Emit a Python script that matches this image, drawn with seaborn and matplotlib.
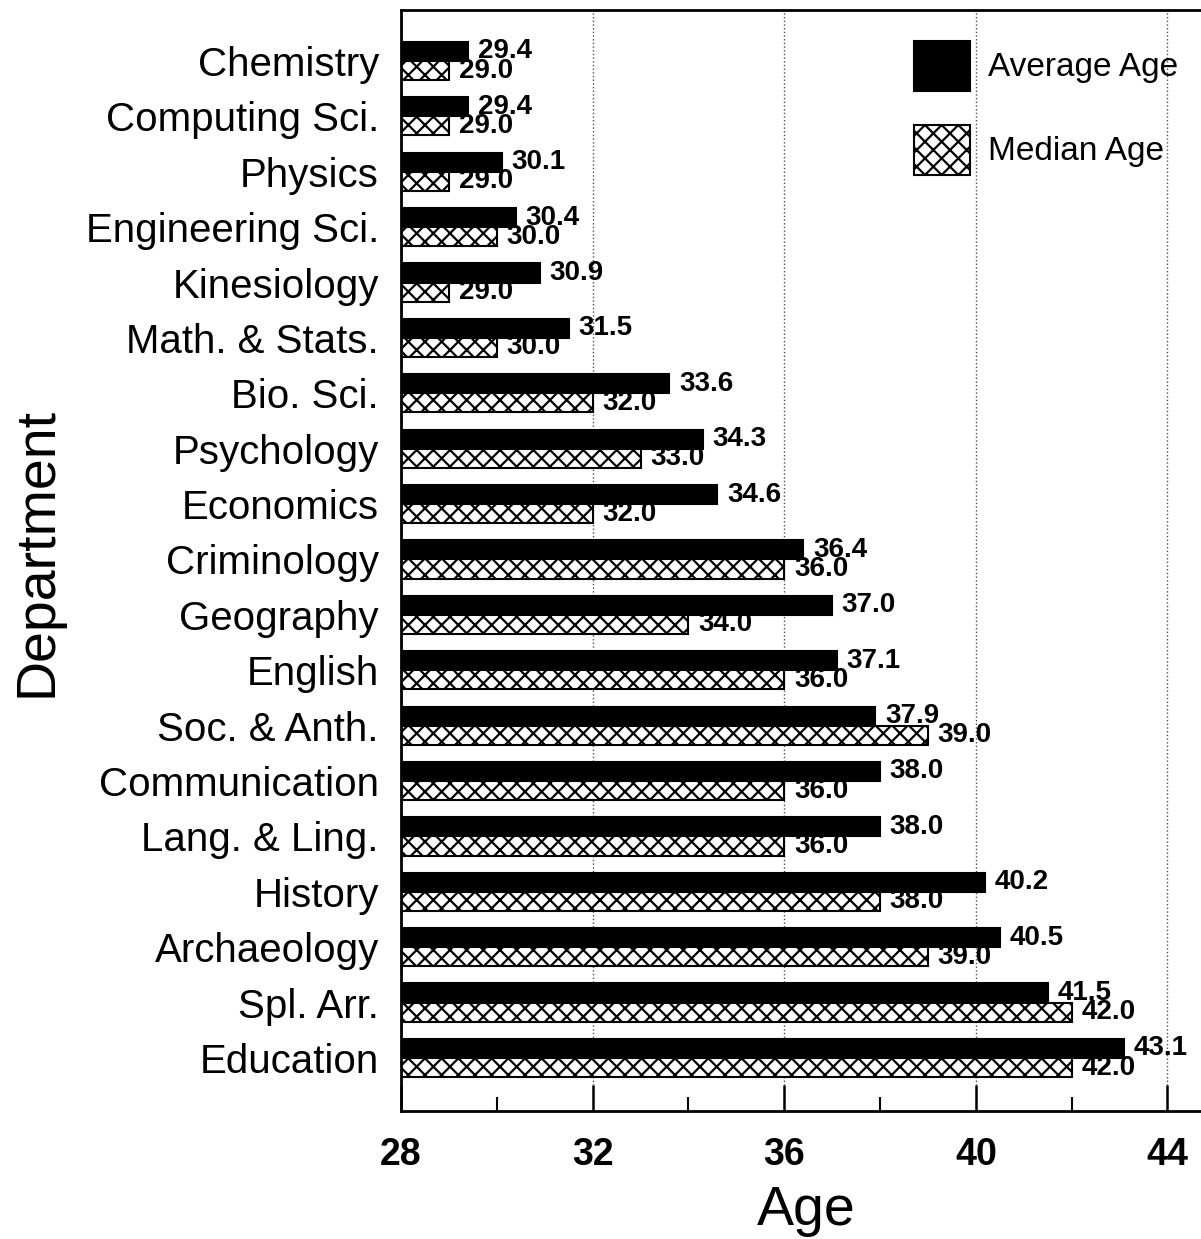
import matplotlib
matplotlib.use("Agg")
import matplotlib.pyplot as plt
import seaborn as sns
import pandas as pd

# department ages
departments = ["Chemistry", "Computing Sci.", "Physics", "Engineering Sci.",
               "Kinesiology", "Math. & Stats.", "Bio. Sci.", "Psychology",
               "Economics", "Criminology", "Geography", "English",
               "Soc. & Anth.", "Communication", "Lang. & Ling.", "History",
               "Archaeology", "Spl. Arr.", "Education"]
average_age = [29.4, 29.4, 30.1, 30.4, 30.9, 31.5, 33.6, 34.3, 34.6, 36.4,
               37.0, 37.1, 37.9, 38.0, 38.0, 40.2, 40.5, 41.5, 43.1]
median_age = [29.0, 29.0, 29.0, 30.0, 29.0, 30.0, 32.0, 33.0, 32.0, 36.0,
              34.0, 36.0, 39.0, 36.0, 36.0, 38.0, 39.0, 42.0, 42.0]
series = ["Average Age", "Median Age"]
x_ticks = [28, 32, 36, 40, 44]
x_minor = [30, 34, 38, 42]

df = pd.DataFrame({"Department": departments,
                   "Average Age": average_age,
                   "Median Age": median_age})
long_df = df.melt(id_vars="Department", value_vars=series,
                  var_name="Measure", value_name="Age")

sns.set_style("ticks")
plt.rcParams["font.family"] = ["Liberation Sans", "DejaVu Sans"]
plt.rcParams["hatch.linewidth"] = 1.6
for key in ["text.color", "axes.labelcolor", "xtick.color", "ytick.color",
            "axes.edgecolor"]:
    plt.rcParams[key] = "black"

fig = plt.figure(figsize=(12.01, 12.39), dpi=100)
ax = fig.add_axes([401 / 1201, 1 - 1111 / 1239, 799 / 1201, 1101 / 1239])

sns.barplot(data=long_df, x="Age", y="Department", hue="Measure",
            hue_order=series, order=departments, orient="h",
            palette={"Average Age": "black", "Median Age": "white"},
            saturation=1, width=0.69, edgecolor="black", linewidth=1.5,
            legend=False, ax=ax)

for bar in ax.containers[1]:
    bar.set_hatch("xx")

for cont in ax.containers:
    ax.bar_label(cont, fmt="%.1f", padding=7, fontsize=20, fontweight="bold")

ax.set_xlim(28, 44.68)
ax.set_ylim(18.957, -0.92)
ax.set_xticks(x_ticks)
ax.set_xticks(x_minor, minor=True)
ax.tick_params(axis="x", which="major", direction="in", length=19, width=1.8,
               labelsize=27, pad=19)
ax.tick_params(axis="x", which="minor", direction="in", length=10, width=1.5)
ax.tick_params(axis="y", length=0, labelsize=29, pad=16)
for lbl in ax.get_xticklabels():
    lbl.set_fontweight("bold")

ax.set_axisbelow(True)
ax.grid(axis="x", which="major", linestyle=":", color="0.3", linewidth=1)

for side in ["left", "top", "bottom"]:
    ax.spines[side].set_linewidth(2)
ax.spines["right"].set_visible(False)

ax.set_xlabel("Age", fontsize=40)
ax.set_ylabel("Department", fontsize=40)
ax.xaxis.set_label_coords(0.507, -0.067)
ax.yaxis.set_label_coords(-0.423, 0.508)

ax.legend(handles=list(ax.containers), labels=series, loc="upper left",
          bbox_to_anchor=(0.642, 0.972), frameon=False, fontsize=24,
          handlelength=1.68, handleheight=1.93, handletextpad=0.54,
          labelspacing=1.02, borderpad=0, borderaxespad=0)

fig.savefig("out.png", dpi=100)
